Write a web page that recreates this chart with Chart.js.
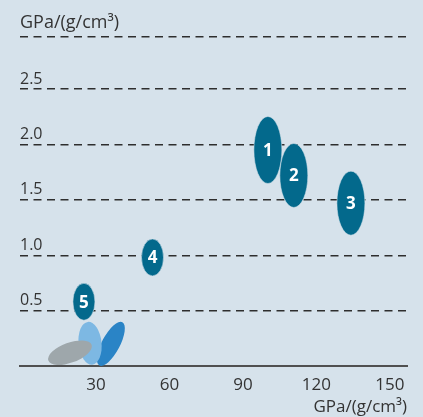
<!DOCTYPE html>
<html><head><meta charset="utf-8">
<script src="https://cdn.jsdelivr.net/npm/chart.js@4"></script>
<style>html,body{margin:0;padding:0;background:#d6e2eb;overflow:hidden}#wrap{width:423px;height:417px;position:relative}</style>
</head><body><div id="wrap"><canvas id="c"></canvas></div>
<script>
// ---- data ----
const markerLabels = ['1', '2', '3', '4', '5'];
const markerModulus = [100.2, 110.8, 134.1, 53.1, 25.1];   // specific modulus, GPa/(g/cm³)
const markerStrength = [1.95, 1.72, 1.47, 0.98, 0.58];     // specific strength, GPa/(g/cm³)
const baseModulus = [36.1, 27.6, 19.4];
const baseStrength = [0.20, 0.205, 0.12];
const xTickValues = [30, 60, 90, 120, 150];
const yTickValues = [0.5, 1.0, 1.5, 2.0, 2.5];
const unitLabel = 'GPa/(g/cm³)';
const xMin = -1, xMax = 157, yMin = 0, yMax = 2.97;

// ---- styles ----
const FONT = "'Open Sans', 'Noto Sans', sans-serif";
const TEXT = '#333333';
const markerStyle = [
  {w: 28, h: 67, rot: 0}, {w: 28, h: 64, rot: 0}, {w: 28, h: 64, rot: 0},
  {w: 22, h: 37, rot: 0}, {w: 22, h: 37, rot: 0}
];
const baseStyle = [
  {w: 18, h: 49, rot: 28, color: '#2a84c6'},
  {w: 23, h: 43, rot: -6, color: '#7db8e3'},
  {w: 46, h: 20, rot: -20, color: '#9ea7ab'}
];
const teal = '#03698c';

const ellipsePlugin = {
  id: 'ellipses',
  afterDatasetsDraw(chart) {
    const ctx = chart.ctx;
    chart.data.datasets.forEach((ds, di) => {
      const meta = chart.getDatasetMeta(di);
      const styles = di === 0 ? baseStyle : markerStyle;
      meta.data.forEach((pt, i) => {
        const s = styles[i];
        ctx.save();
        ctx.translate(pt.x, pt.y);
        ctx.rotate(s.rot * Math.PI / 180);
        ctx.beginPath();
        ctx.ellipse(0, 0, s.w / 2, s.h / 2, 0, 0, Math.PI * 2);
        ctx.fillStyle = s.color || teal;
        ctx.fill();
        if (di === 1) {
          ctx.lineWidth = 0.8;
          ctx.strokeStyle = 'rgba(214,226,235,0.7)';
          ctx.stroke();
        }
        ctx.restore();
        if (di === 1) {
          ctx.save();
          ctx.fillStyle = '#ffffff';
          ctx.font = "bold 17px " + FONT;
          ctx.textAlign = 'center';
          ctx.textBaseline = 'middle';
          ctx.fillText(markerLabels[i], pt.x, pt.y + 1);
          ctx.restore();
        }
      });
    });
  }
};

const toPts = (xs, ys) => xs.map((x, i) => ({x: x, y: ys[i]}));

new Chart(document.getElementById('c'), {
  type: 'scatter',
  data: {
    datasets: [
      {data: toPts(baseModulus, baseStrength), pointRadius: 0, pointHoverRadius: 0},
      {data: toPts(markerModulus, markerStrength), pointRadius: 0, pointHoverRadius: 0}
    ]
  },
  options: {
    responsive: true,
    maintainAspectRatio: false,
    animation: false,
    events: [],
    layout: {padding: {left: 20, right: 16, top: 37, bottom: 0}},
    plugins: {legend: {display: false}, tooltip: {enabled: false}},
    scales: {
      x: {
        type: 'linear', min: xMin, max: xMax,
        afterBuildTicks: s => { s.ticks = xTickValues.map(v => ({value: v})); },
        afterFit: s => { s.height = 51; },
        grid: {display: false, drawTicks: false},
        border: {display: true, color: '#505050', width: 2},
        ticks: {color: TEXT, font: {family: FONT, size: 17}, padding: 9, maxRotation: 0, autoSkip: false},
        title: {display: true, text: unitLabel, align: 'end', color: TEXT, font: {family: FONT, size: 17}, padding: {top: 0, bottom: 0}}
      },
      y: {
        type: 'linear', min: yMin, max: yMax,
        afterBuildTicks: s => { s.ticks = yTickValues.map(v => ({value: v})).concat([{value: yMax}]); },
        afterFit: s => { s.width = 0; },
        grid: {color: '#2e2e2e', lineWidth: 1.4, drawTicks: false},
        border: {display: false, dash: [8, 5.5]},
        ticks: {
          mirror: true, padding: 0, labelOffset: -10, autoSkip: false,
          color: TEXT,
          font: c => (c.tick && c.tick.value === yMax)
            ? {family: FONT, size: 18, lineHeight: 0.5}
            : {family: FONT, size: 16},
          callback: v => v === yMax ? [unitLabel, ''] : v.toFixed(1)
        }
      }
    }
  },
  plugins: [ellipsePlugin]
});
</script></body></html>
